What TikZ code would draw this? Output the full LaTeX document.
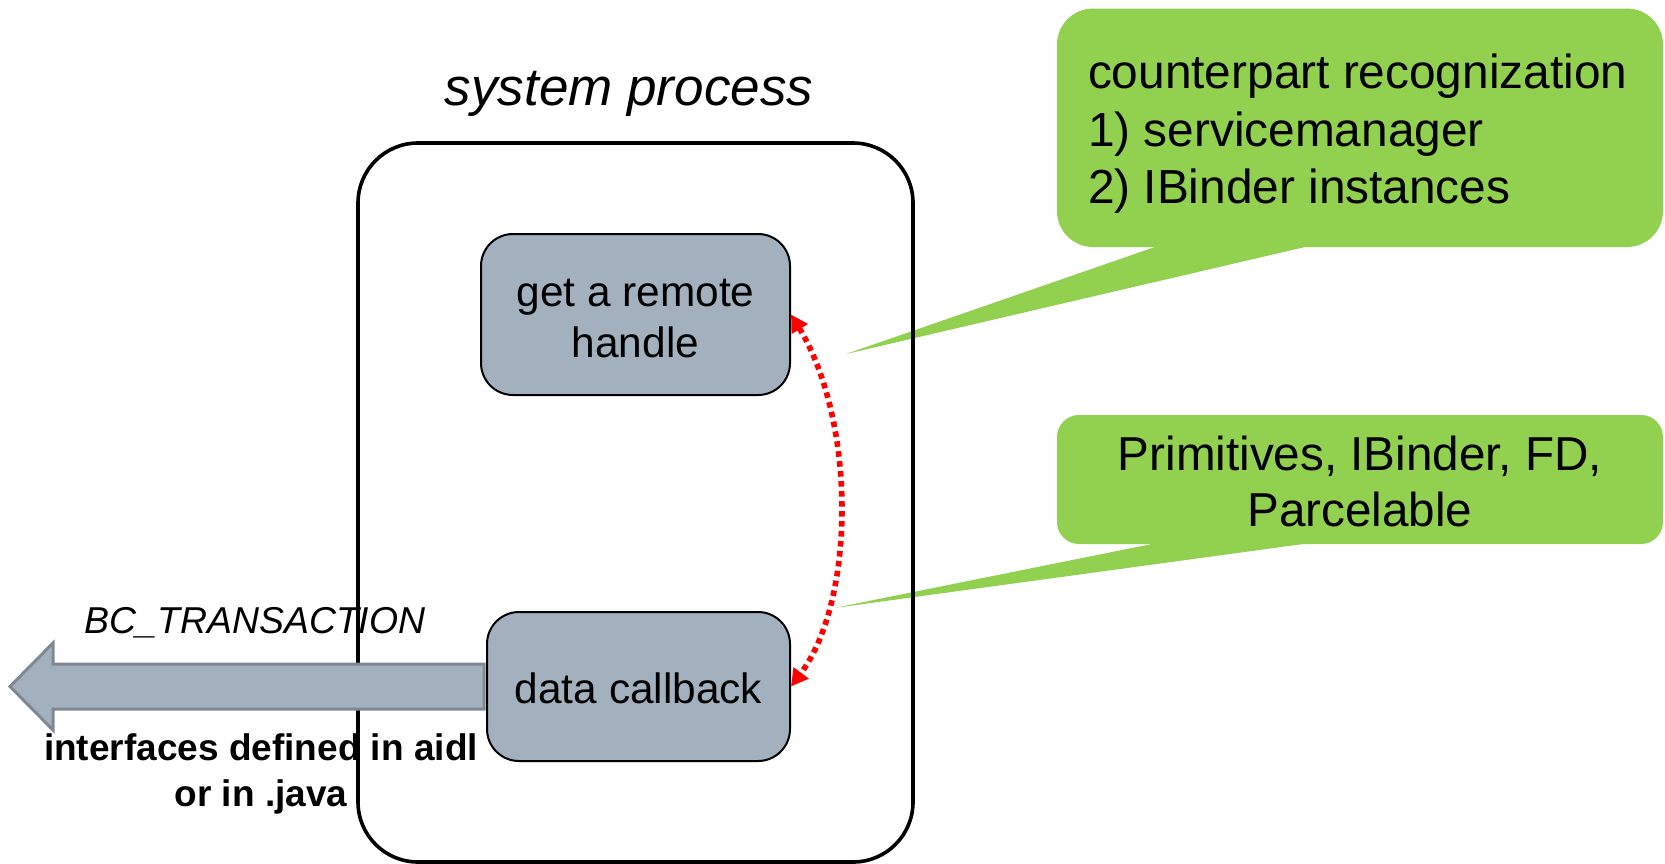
\documentclass[tikz,border=0pt]{standalone}
\usepackage{fontspec}
\setmainfont{Liberation Sans}
\usetikzlibrary{arrows.meta,calc}
\definecolor{boxgray}{RGB}{163,177,191}
\definecolor{arrowedge}{RGB}{127,137,148}
\definecolor{noteGreen}{RGB}{146,208,80}

\begin{document}
\begin{tikzpicture}[x=0.5pt,y=-0.5pt,
  procbox/.style={draw=black, line width=1.8pt, rounded corners=30pt,
    minimum width=277.5pt, minimum height=359.5pt, inner sep=0pt},
  stepbox/.style={draw=black, line width=1pt, fill=boxgray, rounded corners=16pt,
    align=center, inner sep=0pt, font=\fontsize{21.2}{25.5}\selectfont},
  note/.style={fill=noteGreen, inner sep=0pt, minimum width=303pt},
  tail/.style={fill=noteGreen},
  swap/.style={red, line width=2.8pt, dash pattern=on 2.8pt off 2.2pt,
    {Triangle[length=8.5pt,width=9pt]}-{Triangle[length=8.5pt,width=9pt]}},
  bigarrow/.style={fill=boxgray, draw=arrowedge, line width=1.5pt, line join=miter},
  caption/.style={inner sep=0pt, align=center}
]
\useasboundingbox (0,0) rectangle (1665,863);

% green notes
\node[note, rounded corners=18pt, minimum height=119.25pt] (c1) at (1360,127.75) {};
\node[note, rounded corners=11pt, minimum height=64.5pt] (c2) at (1360,479.5) {};

% note pointers
\coordinate (tip1) at (846,354);
\coordinate (tip2) at (834,608);
\fill[tail] ($(c1.south west)+(100,-1)$) -- (tip1) -- ($(c1.south west)+(251,-1)$) -- cycle;
\fill[tail] ($(c2.south west)+(98,-1)$) -- (tip2) -- ($(c2.south west)+(251,-1)$) -- cycle;

% note texts
\node[caption, anchor=west, align=left, font=\fontsize{23.9}{28.75}\selectfont]
  (c1text) at ($(c1.west)+(31,6)$)
  {counterpart recognization\\1) servicemanager\\2) IBinder instances};
\node[caption, font=\fontsize{23.8}{28.25}\selectfont]
  (c2text) at ($(c2.center)+(0,2)$)
  {Primitives, IBinder, FD,\\Parcelable};

% process frame
\node[procbox] (sys) at (635.5,502.5) {};
\node[caption, font=\fontsize{26.5}{30}\selectfont\itshape] (systitle) at (629,94) {system process};

% inner steps
\node[stepbox, minimum width=154.5pt, minimum height=80.5pt] (get) at (635.5,314.5)
  {\raisebox{-1.9pt}[\height][\depth]{\parbox{150pt}{\centering get a remote\\handle}}};
\node[stepbox, minimum width=151.5pt, minimum height=74.5pt] (data) at (638.5,686.5)
  {\raisebox{-1pt}[\height][\depth]{data callback}};

% round trip between the steps
\draw[swap] (get.east) .. controls +(65,107) and +(65,-87) .. (data.east);

% outgoing transaction
\coordinate (bctip) at (10,686.5);
\draw[bigarrow] ($(data.west)+(-2,-22.5)$) -- ($(bctip)+(43,-22.5)$)
  -- ($(bctip)+(43,-43.5)$) -- (bctip) -- ($(bctip)+(43,43.5)$)
  -- ($(bctip)+(43,22.5)$) -- ($(data.west)+(-2,22.5)$) -- cycle;

\node[caption, font=\fontsize{18.7}{22}\selectfont\itshape] (bclabel) at (255,623) {BC\_TRANSACTION};
\node[caption, font=\fontsize{18.5}{22.75}\selectfont\bfseries] (iflabel) at (261,774)
  {interfaces defined in aidl\\or in .java};
\end{tikzpicture}
\end{document}
